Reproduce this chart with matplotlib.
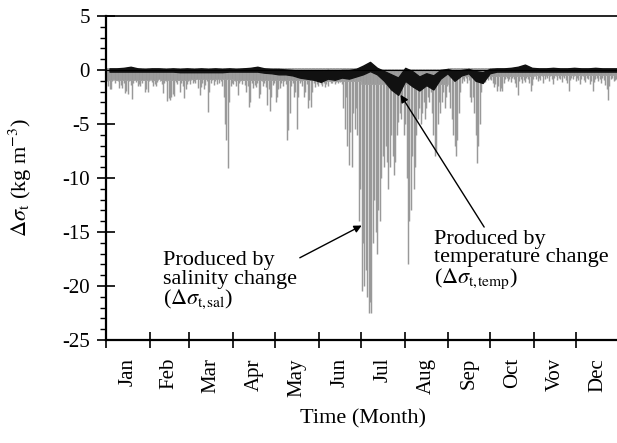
import numpy as np
import matplotlib
matplotlib.use('Agg')
import matplotlib.pyplot as plt

plt.rcParams['font.family'] = ['Liberation Serif', 'DejaVu Serif']
plt.rcParams['mathtext.fontset'] = 'stix'
plt.rcParams['axes.unicode_minus'] = False

months = ['Jan', 'Feb', 'Mar', 'Apr', 'May', 'Jun', 'Jul', 'Aug', 'Sep', 'Oct', 'Vov', 'Dec']
month_days = [31, 28, 31, 30, 31, 30, 31, 31, 30, 31, 30, 31]

# daily minimum of salinity-driven change (kg m-3), one list per month
sal_jan = [-1.0, -1.5, -1.8, -1.8, -1.0, -0.8, -1.2, -0.9, -1.0, -1.7, -1.4, -1.7, -1.2, -2.1, -1.9, -2.2,
           -1.0, -1.4, -2.7, -1.2, -0.9, -1.1, -1.5, -1.3, -1.5, -1.2, -0.9, -2.0, -1.8, -2.0, -1.0]
sal_feb = [-0.8, -1.1, -1.5, -1.3, -1.5, -1.1, -0.8, -1.0, -1.3, -2.1, -1.2, -1.0, -2.9, -2.6, -2.8, -2.5,
           -2.2, -2.4, -1.1, -1.3, -0.9, -2.0, -1.2, -1.5, -2.6, -1.8, -1.3, -1.0]
sal_mar = [-1.3, -0.9, -1.2, -1.0, -1.2, -0.8, -1.7, -2.3, -1.6, -1.2, -1.8, -1.4, -1.0, -3.9, -2.0, -1.2,
           -0.9, -1.4, -1.0, -1.3, -0.8, -1.2, -1.0, -1.5, -2.5, -5.0, -6.5, -9.1, -3.0, -1.5, -1.2]
sal_apr = [-1.3, -1.0, -1.5, -2.3, -1.2, -1.0, -1.3, -0.9, -1.4, -2.0, -1.5, -3.4, -3.0, -1.2, -1.7, -1.4,
           -1.6, -1.2, -2.6, -2.2, -1.0, -1.5, -1.2, -1.6, -3.2, -1.8, -3.8, -2.5, -1.4, -1.2]
sal_may = [-3.0, -2.5, -1.8, -1.7, -1.2, -1.5, -1.0, -1.3, -6.5, -5.6, -4.0, -1.5, -1.2, -2.5, -2.0, -5.5,
           -2.5, -1.2, -1.0, -1.5, -2.5, -2.0, -1.3, -3.5, -2.8, -3.4, -2.0, -1.2, -1.6, -1.3, -1.5]
sal_jun = [-1.0, -1.3, -1.5, -1.2, -1.6, -1.3, -1.5, -1.0, -1.2, -1.2, -1.0, -1.3, -1.1, -1.2, -1.0, -1.1,
           -1.3, -3.5, -5.5, -2.5, -7.0, -8.8, -5.7, -9.0, -4.0, -5.5, -3.5, -6.0, -14.0, -11.0]
sal_jul = [-20.5, -16.0, -20.0, -18.5, -21.0, -22.5, -21.5, -22.5, -16.0, -12.0, -15.0, -17.0, -13.0, -14.0,
           -10.0, -8.0, -9.0, -7.0, -8.5, -11.0, -9.0, -6.0, -8.0, -9.7, -8.5, -6.0, -4.8, -4.0, -4.5, -3.0, -6.0]
sal_aug = [-5.0, -10.0, -18.0, -14.0, -13.0, -8.0, -11.0, -9.0, -6.0, -4.5, -3.5, -5.0, -4.0, -3.0, -4.5,
           -3.5, -2.5, -3.0, -2.0, -4.0, -6.0, -8.0, -7.5, -5.0, -3.0, -4.0, -3.0, -2.0, -3.5, -2.5, -1.5]
sal_sep = [-2.0, -3.5, -4.5, -6.0, -7.0, -8.0, -6.5, -4.0, -2.0, -1.2, -0.8, -1.0, -0.7, -1.2, -0.9, -2.5,
           -3.0, -2.5, -4.0, -6.0, -8.6, -7.0, -5.0, -2.0, -1.0, -0.8, -1.1, -0.7, -0.9, -0.8]
sal_oct = [-0.9, -1.2, -1.6, -1.3, -1.9, -1.5, -1.9, -1.7, -1.9, -1.2, -0.8, -0.7, -1.0, -0.8, -1.1, -0.7,
           -0.8, -1.2, -1.6, -2.3, -1.0, -0.8, -1.2, -0.9, -1.1, -0.7, -0.8, -1.2, -1.9, -1.4, -0.8]
sal_nov = [-0.6, -0.8, -1.0, -0.7, -0.9, -0.6, -1.2, -0.8, -0.6, -0.7, -1.0, -0.6, -0.8, -1.3, -0.7, -0.6,
           -0.9, -0.7, -0.8, -1.1, -0.6, -0.7, -0.9, -1.2, -1.9, -0.9, -0.7, -0.8, -0.6, -1.0]
sal_dec = [-0.7, -0.9, -1.3, -0.8, -0.6, -0.9, -1.1, -0.7, -0.8, -1.3, -1.0, -1.9, -1.1, -0.8, -0.7, -1.0,
           -0.8, -1.2, -0.7, -0.9, -1.4, -1.8, -2.8, -1.5, -0.8, -0.7, -1.0, -0.9, -0.8, -1.1, -0.7]
# upper edge and dense lower envelope of the salinity trace, per month
sal_top = [0.15, 0.2, 0.2, 0.2, 0.2, 0.15, 0.1, 0.1, 0.15, 0.2, 0.2, 0.15]
sal_base = [-0.9, -0.9, -0.8, -0.9, -0.9, -1.0, -1.3, -1.3, -0.6, -0.6, -0.5, -0.5]

# temperature-driven change: 5-day low / high (kg m-3)
temp_lo = [-0.15, -0.15, -0.15, -0.15, -0.15, -0.15, -0.15, -0.15, -0.15, -0.15,
           -0.2, -0.2, -0.2, -0.2, -0.2, -0.2, -0.2, -0.15, -0.15, -0.15,
           -0.15, -0.15, -0.25, -0.3, -0.4, -0.4, -0.5, -0.7, -0.8, -0.9,
           -1.1, -0.8, -0.9, -0.7, -0.8, -0.6, -0.4, -0.1, -0.4, -1.0,
           -1.8, -2.3, -1.0, -1.5, -1.9, -1.4, -1.8, -0.8, -0.3, -1.0,
           -0.5, -0.3, -1.0, -1.2, -0.3, -0.15, -0.15, -0.15, -0.15, -0.15,
           -0.15, -0.15, -0.15, -0.15, -0.15, -0.15, -0.15, -0.15, -0.15, -0.15,
           -0.15, -0.15, -0.15]
temp_hi = [0.15, 0.15, 0.2, 0.3, 0.15, 0.1, 0.15, 0.15, 0.1, 0.15,
           0.1, 0.15, 0.1, 0.15, 0.1, 0.15, 0.1, 0.15, 0.1, 0.15,
           0.2, 0.3, 0.15, 0.1, 0.1, 0.05, 0.0, -0.1, -0.1, -0.1,
           -0.1, 0.0, -0.1, 0.0, 0.0, 0.1, 0.4, 0.75, 0.2, -0.1,
           -0.4, -0.7, 0.2, -0.1, -0.6, -0.3, -0.5, 0.0, 0.1, -0.1,
           0.0, 0.1, -0.1, -0.2, 0.1, 0.15, 0.15, 0.2, 0.3, 0.5,
           0.2, 0.15, 0.15, 0.2, 0.15, 0.15, 0.2, 0.15, 0.15, 0.2,
           0.15, 0.15, 0.15]

sal_min = np.array(sal_jan + sal_feb + sal_mar + sal_apr + sal_may + sal_jun +
                   sal_jul + sal_aug + sal_sep + sal_oct + sal_nov + sal_dec)
sal_max = np.repeat(sal_top, month_days)
sal_env = np.maximum(np.repeat(sal_base, month_days), sal_min)
days = np.arange(len(sal_min)) + 0.5
pentads = np.arange(len(temp_lo)) * 5 + 2.5

month_start = np.concatenate([[0], np.cumsum(month_days)[:-1]])
month_mid = month_start + np.array(month_days) / 2.0

gray = '#999999'
fig = plt.figure(figsize=(6.17, 4.43), dpi=100)
ax = fig.add_axes([0.1718, 0.2325, 0.833, 0.7314])

# dense part near zero, then the individual downward spikes
ax.bar(days, sal_max - sal_env, bottom=sal_env, width=1.0, color=gray,
       edgecolor=gray, linewidth=0.4, zorder=2)
ax.vlines(days, sal_min, sal_env, color=gray, linewidth=1.05, zorder=2)
ax.fill_between(pentads, temp_lo, temp_hi, color='#111111', linewidth=1.0, edgecolor='#111111', zorder=3)
ax.axhline(0, color='black', linewidth=0.8, zorder=4)

ax.set_xlim(0, 365)
ax.set_ylim(-25, 5)

ax.set_xticks(month_start)
ax.set_xticklabels([])
ax.set_xticks(month_mid, minor=True)
ax.set_xticklabels(months, minor=True, rotation=90, fontsize=15)
ax.tick_params(axis='x', which='major', direction='inout', length=11, width=1.2)
ax.tick_params(axis='x', which='minor', length=0, pad=13)

ax.set_yticks(np.arange(-25, 6, 5))
ax.set_yticks(np.arange(-25, 6, 1), minor=True)
ax.tick_params(axis='y', which='major', direction='inout', length=13, width=1.2, labelsize=15, pad=5)
ax.tick_params(axis='y', which='minor', direction='out', length=4.5, width=1.0)

for s in ['left', 'bottom']:
    ax.spines[s].set_linewidth(1.6)
ax.spines['top'].set_linewidth(1.2)
ax.spines['right'].set_visible(False)

ax.set_ylabel(r'$\Delta\sigma_{\rm t}$ (kg m$^{-3}$)', fontsize=16)
ax.yaxis.set_label_coords(-0.14, 0.5)
ax.set_xlabel('Time (Month)', fontsize=16)
ax.xaxis.set_label_coords(0.5, -0.215)

ax.annotate('Produced by\nsalinity change\n' + r'($\Delta\sigma_{\rm t,\!sal}$)',
            xy=(181.6, -14.4), xytext=(40.5, -16.8), fontsize=16, linespacing=0.95,
            ha='left', va='top',
            arrowprops=dict(arrowstyle='-|>', color='black', lw=1.0, mutation_scale=11,
                            shrinkA=0, shrinkB=0, relpos=(1.0, 0.87)))
ax.annotate('Produced by\ntemperature change\n' + r'($\Delta\sigma_{\rm t,\!temp}$)',
            xy=(209.2, -2.3), xytext=(232.6, -14.8), fontsize=16, linespacing=0.95,
            ha='left', va='top',
            arrowprops=dict(arrowstyle='-|>', color='black', lw=1.0, mutation_scale=11,
                            shrinkA=0, shrinkB=0, relpos=(0.3, 1.0)))

fig.savefig('out.png', dpi=100)
